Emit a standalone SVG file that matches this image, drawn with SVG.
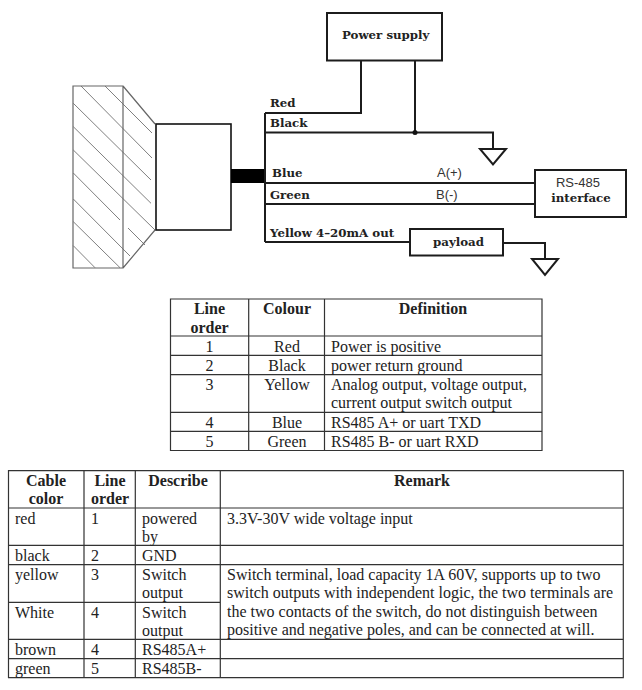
<svg xmlns="http://www.w3.org/2000/svg" width="642" height="690" viewBox="0 0 642 690">
<style>
.w{fill:none;stroke:#1c1c1c;stroke-width:2}
.h{fill:none;stroke:#808080;stroke-width:1}
.o{fill:none;stroke:#666;stroke-width:1.2}
.b{fill:#fff;stroke:#1c1c1c;stroke-width:2}
.d{font-family:"DejaVu Serif",serif;font-weight:700;font-size:11.8px;fill:#222}
.s{font-family:"Liberation Sans",Arial,sans-serif;font-size:13px;fill:#333}
.t{font-family:"Liberation Serif","Times New Roman",serif;font-size:16px;fill:#222}
.th{font-weight:700}
.m{text-anchor:middle}
.g{fill:none;stroke:#333;stroke-width:1.2}
</style>
<rect width="642" height="690" fill="#fff"/>
<g id="sensor">
<path class="h" d="M81 86L152 158M105 86L152 133M73.300 103.300L151 180M73.300 126.700L151 203.300M73.300 150L155 230M73.300 173L120 220M73.300 199L130 256M73.300 221.700L120 267.700M73.300 245.700L95 267.700M128 228L145 245"/>
<path class="o" d="M73 86H123V268H73ZM123 86L155 124M155 230L123 268"/>
</g>
<g id="housing"><rect x="156" y="124" width="75" height="106" fill="#fff" stroke="#111" stroke-width="1.6"/></g>
<g id="connectors">
<rect x="231" y="169" width="34" height="14" fill="#000"/>
<path class="w" d="M265 113V242M265 113H361V60M265 132.500H493V149M415 60V132.500M265 183H535M265 204H535M265 242H410M503 243H545V259"/>
<circle cx="415" cy="132.500" r="2.500" fill="#111"/>
</g>
<g id="power-supply"><rect class="b" x="327" y="13" width="115" height="47.500"/><text class="d" x="342" y="39">Power supply</text></g>
<g id="ground-1"><path class="b" d="M480 149H506L493 164.500Z"/></g>
<g id="rs485"><rect class="b" x="535" y="170" width="91" height="47"/><text class="s m" x="578" y="187">RS-485</text><text class="d m" x="581" y="202">interface</text></g>
<g id="payload"><rect class="b" x="410" y="229" width="93" height="26.500"/><text class="d m" x="458.500" y="246">payload</text></g>
<g id="ground-2"><path class="b" d="M532 259H558L545 275Z"/></g>
<g id="wire-labels">
<text class="d" x="270" y="107">Red</text>
<text class="d" x="270" y="127">Black</text>
<text class="d" x="272" y="177">Blue</text>
<text class="d" x="270" y="199">Green</text>
<text class="d" x="270" y="237">Yellow 4–20mA out</text>
<text class="s" x="437" y="177">A(+)</text>
<text class="s" x="436" y="199">B(-)</text>
</g>
<g id="table-1">
<path class="g" d="M170.500 299H542V450.500H170.500ZM248.700 299V450.500M324.500 299V450.500M170.500 336H542M170.500 355.300H542M170.500 374.700H542M170.500 412.300H542M170.500 431.300H542"/>
<text class="t th m" x="209.500" y="314">Line</text><text class="t th m" x="209.500" y="333">order</text>
<text class="t th m" x="287" y="314">Colour</text><text class="t th m" x="433" y="314">Definition</text>
<text class="t m" x="209.500" y="352">1</text><text class="t m" x="287" y="352">Red</text><text class="t" x="331" y="352">Power is positive</text>
<text class="t m" x="209.500" y="371">2</text><text class="t m" x="287" y="371">Black</text><text class="t" x="331" y="371">power return ground</text>
<text class="t m" x="209.500" y="390">3</text><text class="t m" x="287" y="390">Yellow</text><text class="t" x="331" y="390">Analog output, voltage output,</text><text class="t" x="331" y="408">current output switch output</text>
<text class="t m" x="209.500" y="428">4</text><text class="t m" x="287" y="428">Blue</text><text class="t" x="331" y="428">RS485 A+ or uart TXD</text>
<text class="t m" x="209.500" y="447">5</text><text class="t m" x="287" y="447">Green</text><text class="t" x="331" y="447">RS485 B- or uart RXD</text>
</g>
<g id="table-2">
<path class="g" d="M8.500 470.700H623.300V677.700H8.500ZM84 470.700V677.700M135.300 470.700V677.700M220.300 470.700V677.700M8.500 508H623.300M8.500 545.300H623.300M8.500 564.700H623.300M8.500 602.300H220.300M8.500 639.300H623.300M8.500 658.700H623.300"/>
<text class="t th m" x="46" y="486">Cable</text><text class="t th m" x="46" y="504">color</text>
<text class="t th m" x="110" y="486">Line</text><text class="t th m" x="110" y="504">order</text>
<text class="t th m" x="178" y="486">Describe</text><text class="t th m" x="422" y="486">Remark</text>
<text class="t" x="15" y="524">red</text><text class="t" x="91" y="524">1</text><text class="t" x="142" y="524">powered</text><text class="t" x="142" y="542">by</text><text class="t" x="227" y="524">3.3V-30V wide voltage input</text>
<text class="t" x="15" y="561">black</text><text class="t" x="91" y="561">2</text><text class="t" x="142" y="561">GND</text>
<text class="t" x="15" y="580">yellow</text><text class="t" x="91" y="580">3</text><text class="t" x="142" y="580">Switch</text><text class="t" x="142" y="598">output</text>
<text class="t" x="227" y="580">Switch terminal, load capacity 1A 60V, supports up to two</text>
<text class="t" x="227" y="598">switch outputs with independent logic, the two terminals are</text>
<text class="t" x="227" y="617">the two contacts of the switch, do not distinguish between</text>
<text class="t" x="227" y="635">positive and negative poles, and can be connected at will.</text>
<text class="t" x="15" y="618">White</text><text class="t" x="91" y="618">4</text><text class="t" x="142" y="618">Switch</text><text class="t" x="142" y="636">output</text>
<text class="t" x="15" y="655">brown</text><text class="t" x="91" y="655">4</text><text class="t" x="142" y="655">RS485A+</text>
<text class="t" x="15" y="674">green</text><text class="t" x="91" y="674">5</text><text class="t" x="142" y="674">RS485B-</text>
</g>
</svg>
